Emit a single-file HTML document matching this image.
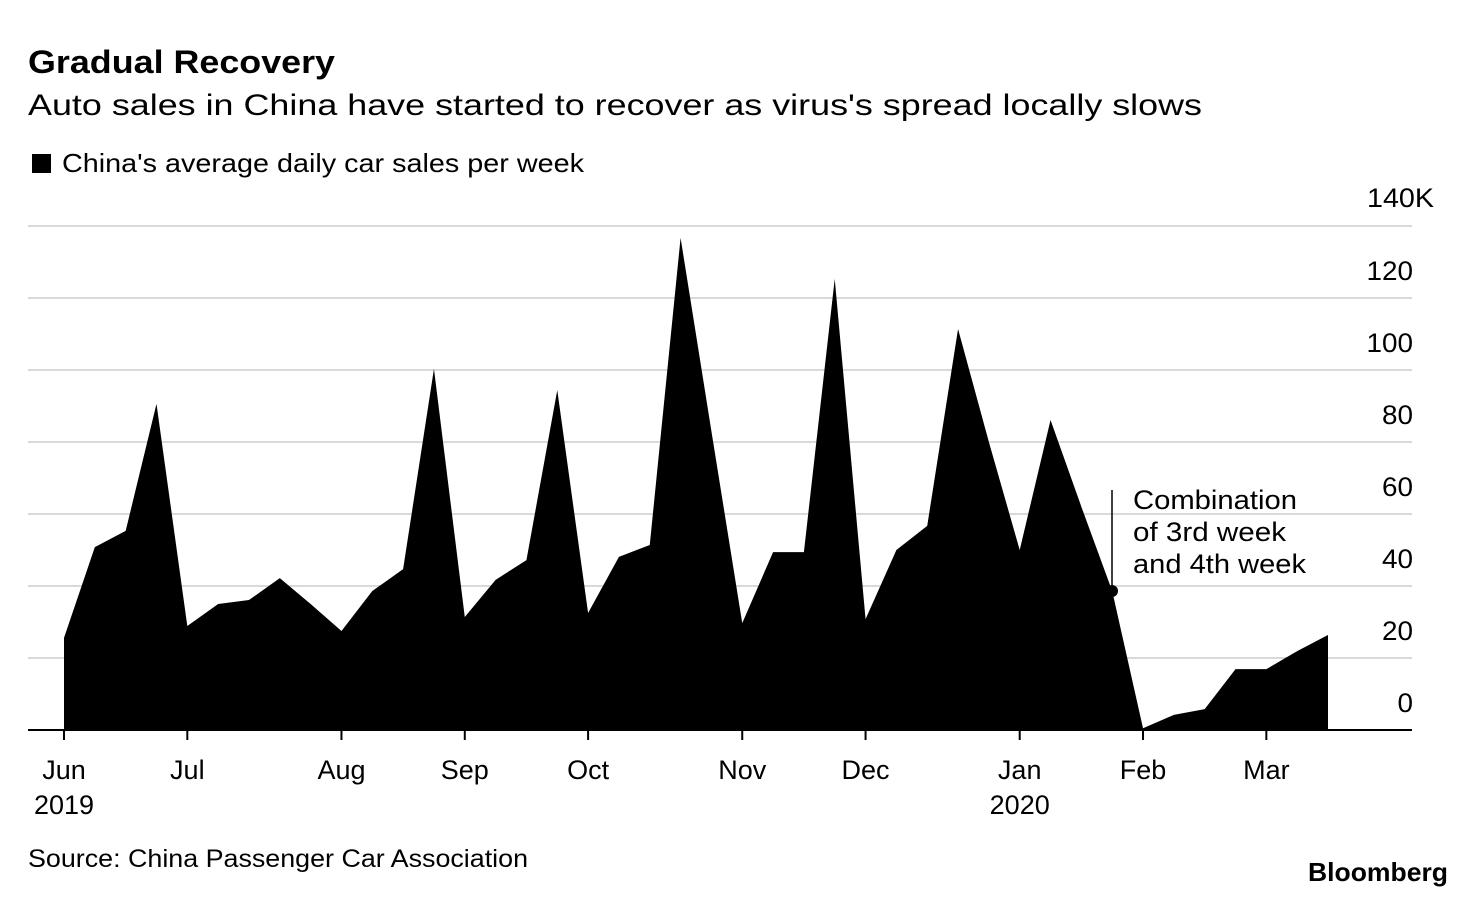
<!DOCTYPE html>
<html><head><meta charset="utf-8"><style>
body{margin:0;background:#fff;font-family:"Liberation Sans",Arial,sans-serif;}
svg text{font-family:"Liberation Sans",Arial,sans-serif;}
</style></head><body>
<svg width="1476" height="898" xmlns="http://www.w3.org/2000/svg">
<text x="28" y="73" font-size="32" font-weight="bold" textLength="307" lengthAdjust="spacingAndGlyphs">Gradual Recovery</text>
<text x="28" y="115" font-size="30" textLength="1174" lengthAdjust="spacingAndGlyphs">Auto sales in China have started to recover as virus's spread locally slows</text>
<rect x="32" y="154" width="19" height="19" fill="#000"/>
<text x="62" y="172" font-size="26" textLength="522" lengthAdjust="spacingAndGlyphs">China's average daily car sales per week</text>
<g id="grid"></g>
<g id="area"></g>
<g id="axes"></g>
<line x1="1112" y1="490" x2="1112" y2="591" stroke="#000" stroke-width="1.5"/>
<circle cx="1112" cy="591" r="6" fill="#000"/>
<g font-size="27">
<text x="1133" y="509" textLength="164" lengthAdjust="spacingAndGlyphs">Combination</text><text x="1133" y="541" textLength="153" lengthAdjust="spacingAndGlyphs">of 3rd week</text><text x="1133" y="573" textLength="173" lengthAdjust="spacingAndGlyphs">and 4th week</text></g>
<text x="28" y="867" font-size="25" textLength="500" lengthAdjust="spacingAndGlyphs">Source: China Passenger Car Association</text>
<text x="1308" y="881" font-size="26" font-weight="bold" textLength="140" lengthAdjust="spacingAndGlyphs">Bloomberg</text>
</svg>
<script>
const values=[25.6,50.8,55.3,90.6,28.9,35,36.1,42.2,35,27.5,38.6,44.7,100.3,31.4,41.7,47.2,94.4,32.5,48.1,51.4,136.7,83,29.7,49.4,49.4,125.3,30.8,50,56.7,111.4,80,50,86.1,62,38.6,0.5,4.2,5.8,16.9,16.9,21.9,26.4];
const yTicks=[0,20,40,60,80,100,120,140];
const monthLabels=["Jun","Jul","Aug","Sep","Oct","Nov","Dec","Jan","Feb","Mar"];
const monthWeekPos=[0,4,9,13,17,22,26,31,35,39];
const yearLabels=[["2019",0],["2020",31]];
const NS="http://www.w3.org/2000/svg";
const x=i=>64+i*(1264/41);
const y=v=>730-v*3.6;
function mk(t,a,p){const e=document.createElementNS(NS,t);for(const k in a)e.setAttribute(k,a[k]);p.appendChild(e);return e;}
const grid=document.getElementById('grid'),area=document.getElementById('area'),axes=document.getElementById('axes');
yTicks.forEach(v=>{
 if(v>0){const l=mk('line',{x1:28,x2:1412,y1:y(v),y2:y(v),stroke:'#d9d9d9','stroke-width':2},grid);
 
 }
 const s=String(v);
 const a=v===140?{x:1367,y:y(v)-19,'font-size':27,'text-anchor':'start',textLength:67,lengthAdjust:'spacingAndGlyphs'}:{x:1413,y:y(v)-18,'font-size':27,'text-anchor':'end',textLength:s.length*15.5,lengthAdjust:'spacingAndGlyphs'};
 const t=mk('text',a,grid);
 t.textContent=v===140?'140K':s;
 
 
});
let d='M'+x(0)+','+y(0);
values.forEach((v,i)=>{d+=' L'+x(i)+','+y(v);});
d+=' L'+x(values.length-1)+','+y(0)+' Z';
const p=mk('path',{d:d,fill:'#000'},area);


const base=mk('line',{x1:28,x2:1412,y1:730,y2:730,stroke:'#000','stroke-width':2},axes);


monthLabels.forEach((m,k)=>{
 const xx=x(monthWeekPos[k]);
 const tk=mk('line',{x1:xx,x2:xx,y1:730,y2:740,stroke:'#000','stroke-width':2},axes);
 
 
 const t=mk('text',{x:xx,y:779,'font-size':27,'text-anchor':'middle'},axes);
 t.textContent=m;
 
 
});
yearLabels.forEach(([yl,w])=>{
 const t=mk('text',{x:x(w),y:814,'font-size':27,'text-anchor':'middle'},axes);
 t.textContent=yl;
 
 
});
</script>
</body></html>
